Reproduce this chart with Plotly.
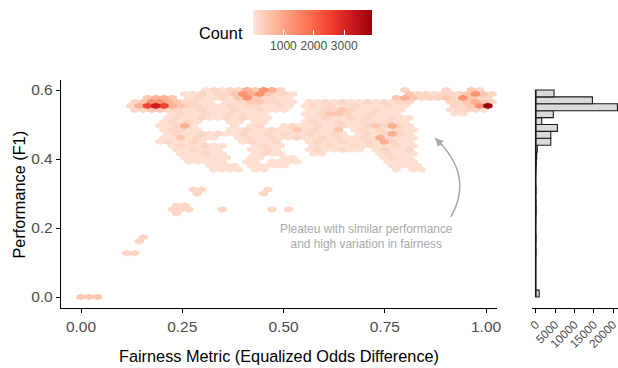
import plotly.graph_objects as go
from plotly.colors import sample_colorscale

# ---- hexbin grid (pointy-top hexagons, odd rows shifted half a column) ----
HEX_DX = 0.0205     # column spacing in fairness units
HEX_DY = 0.01154    # row spacing in F1 units

# count represented by each level character in the runs below
level_counts = {"1": 70, "2": 220, "3": 450, "4": 850, "5": 1300,
                "6": 1900, "7": 2500, "8": 3200, "9": 3900}

# (row, first column, level per consecutive cell)
hex_runs = [
    (52, 15, "1212243542"), (52, 39, "2"), (52, 44, "2"), (52, 47, "32"),
    (51, 12, "11212235453221"), (51, 39, "32212223532"),
    (50, 8, "3443"), (50, 13, "1211213532211"), (50, 38, "343222325322"),
    (49, 6, "2355432211"), (49, 17, "112332211"), (49, 27, "1121211212122"), (49, 44, "223432"),
    (48, 6, "24787432211121221121"), (48, 27, "1212112111211"), (48, 45, "22359"),
    (47, 6, "2233221121112112111"), (47, 27, "112232112111"), (47, 44, "12221"),
    (46, 11, "121121121111"), (46, 27, "112332112111"), (46, 45, "11"),
    (45, 10, "1211211212111"), (45, 27, "1121121211211"),
    (44, 10, "12121"), (44, 18, "11"), (44, 21, "11"), (44, 27, "1211211211211"),
    (43, 9, "11241"), (43, 18, "1"), (43, 20, "12"), (43, 24, "1211211211232421"),
    (42, 10, "12211"), (42, 18, "11211211312113"), (42, 33, "12121211"),
    (41, 10, "1211212112112121121121"), (41, 33, "1212421"),
    (40, 10, "1131211"), (40, 19, "1211211211212112142111"),
    (39, 9, "121121"), (39, 19, "12112"), (39, 27, "1211211214211"),
    (38, 11, "1211211"), (38, 21, "1211"), (38, 28, "1121121211211"),
    (37, 11, "112111"), (37, 20, "1121"), (37, 27, "1211211"), (37, 35, "12112"),
    (36, 12, "111211"), (36, 21, "1211"), (36, 28, "11"), (36, 36, "12111"),
    (35, 12, "111111"), (35, 20, "11"), (35, 24, "11"), (35, 36, "1211"),
    (34, 13, "11111"), (34, 20, "11"), (34, 23, "1111"), (34, 37, "1111"),
    (33, 15, "1111"), (33, 20, "11111"), (33, 37, "1111"),
    (32, 16, "1111"), (32, 21, "11"), (32, 38, "1"), (32, 40, "11"),
    (27, 13, "22"), (27, 22, "2"),
    (26, 14, "2"), (26, 22, "2"),
    (23, 11, "22"),
    (22, 11, "222"), (22, 17, "2"), (22, 23, "2"), (22, 25, "2"),
    (21, 11, "2"),
    (15, 7, "2"),
    (14, 7, "2"),
    (11, 5, "22"),
    (0, 0, "333"),
]

# ---- marginal histogram of performance (bins of 0.02 from 0 to 0.6) ----
hist_bin_width = 0.02
hist_counts = [900, 0, 0, 0, 0, 0, 60, 0, 60, 0,
               0, 20, 100, 60, 0, 60, 0, 0, 60, 150,
               250, 400, 3890, 3890, 5600, 1550, 4560, 21140, 14660, 4740]

# ---- axis ticks ----
x_ticks = [0.0, 0.25, 0.5, 0.75, 1.0]
y_ticks = [0.0, 0.2, 0.4, 0.6]
hist_ticks = [0, 5000, 10000, 15000, 20000]
count_ticks = [1000, 2000, 3000]
count_max = 3914

reds = ["#fee5d9", "#fcbba1", "#fc9272", "#fb6a4a", "#ef3b2c", "#cb181d", "#99000d"]
colorscale = [[i / (len(reds) - 1), c] for i, c in enumerate(reds)]

W, H = 618, 368
FONT = "Liberation Sans, Arial, sans-serif"
TICK_COL = "#4d4d4d"

fig = go.Figure()

# hexagon outline relative to its centre
hx = [0, HEX_DX / 2, HEX_DX / 2, 0, -HEX_DX / 2, -HEX_DX / 2, 0]
hy = [2 * HEX_DY / 3, HEX_DY / 3, -HEX_DY / 3, -2 * HEX_DY / 3, -HEX_DY / 3, HEX_DY / 3, 2 * HEX_DY / 3]

polys = {k: ([], []) for k in level_counts}
for row, start, levels in hex_runs:
    for i, ch in enumerate(levels):
        col = start + i
        cx = (col + 0.5 * (row % 2)) * HEX_DX
        cy = row * HEX_DY
        xs, ys = polys[ch]
        xs.extend([cx + v for v in hx] + [None])
        ys.extend([cy + v for v in hy] + [None])

for ch, (xs, ys) in polys.items():
    if not xs:
        continue
    color = sample_colorscale(colorscale, [level_counts[ch] / count_max])[0]
    fig.add_trace(go.Scatter(
        x=xs, y=ys, mode="lines", fill="toself", fillcolor=color,
        line=dict(width=0.9, color=color), hoverinfo="skip", showlegend=False,
        xaxis="x", yaxis="y"))

# colour bar for the counts (labels and ticks below, plus a tick-only copy above)
cbar_common = dict(orientation="h", x=312.5 / W, xanchor="center",
                   y=1 - 10 / H, yanchor="top", len=119 / W, lenmode="fraction",
                   thickness=25, thicknessmode="pixels", outlinewidth=0,
                   xpad=0, ypad=0, tickvals=count_ticks, ticks="inside", ticklen=5,
                   tickcolor="white", tickwidth=1,
                   tickfont=dict(family=FONT, size=12, color=TICK_COL))
for extra in (dict(), dict(ticklabelposition="outside top", showticklabels=False)):
    fig.add_trace(go.Scatter(
        x=[None, None], y=[None, None], mode="markers", showlegend=False, hoverinfo="skip",
        marker=dict(color=[0, count_max], colorscale=colorscale, cmin=0, cmax=count_max,
                    showscale=True, colorbar={**cbar_common, **extra}),
        xaxis="x", yaxis="y"))

# histogram bars (horizontal)
centers = [hist_bin_width * (k + 0.5) for k in range(len(hist_counts))]
fig.add_trace(go.Bar(
    x=hist_counts, y=centers, orientation="h", width=hist_bin_width,
    marker=dict(color="#dadada", line=dict(color="#1a1a1a", width=1.1)),
    hoverinfo="skip", showlegend=False, xaxis="x2", yaxis="y2"))
# outline of the empty bins along the zero baseline
fig.add_trace(go.Scatter(
    x=[0, 0], y=[0, hist_bin_width * len(hist_counts)], mode="lines",
    line=dict(color="#1a1a1a", width=1.6), hoverinfo="skip", showlegend=False,
    xaxis="x2", yaxis="y2"))

y_range = [-0.0319, 0.629]
y_dom = [60 / H, 288 / H]
axis_common = dict(showline=True, linecolor="black", linewidth=1.3, ticks="outside",
                   ticklen=4, tickcolor="black", tickwidth=1.1, showgrid=False, zeroline=False,
                   automargin=False,
                   tickfont=dict(family=FONT, size=15.5, color=TICK_COL))

fig.update_layout(
    width=W, height=H, margin=dict(l=0, r=0, t=0, b=0, autoexpand=False),
    plot_bgcolor="white", paper_bgcolor="white",
    font=dict(family=FONT, color="black"),
    xaxis=dict(domain=[61 / W, 497 / W], range=[-0.0494, 1.027],
               tickvals=x_ticks, ticktext=[f"{v:.2f}" for v in x_ticks],
               anchor="y", **axis_common),
    yaxis=dict(domain=y_dom, range=y_range,
               tickvals=y_ticks, ticktext=[f"{v:.1f}" for v in y_ticks],
               anchor="x", **axis_common),
    xaxis2=dict(domain=[532.3 / W, 1.0], range=[-880, 21280], anchor="y2",
                tickvals=hist_ticks, ticktext=[str(v) for v in hist_ticks], tickangle=-45,
                ticklabeloverflow="allow",
                **{**axis_common, "tickfont": dict(family=FONT, size=11.8, color=TICK_COL)}),
    yaxis2=dict(domain=y_dom, range=y_range, anchor="x2", visible=False),
    annotations=[
        dict(text="Fairness Metric (Equalized Odds Difference)", xref="paper", yref="paper",
             x=279 / W, y=1 - 356 / H, xanchor="center", yanchor="middle", showarrow=False,
             font=dict(family=FONT, size=16.3, color="black")),
        dict(text="Performance (F1)", xref="paper", yref="paper", textangle=-90,
             x=18 / W, y=1 - 194.5 / H, xanchor="center", yanchor="middle", showarrow=False,
             font=dict(family=FONT, size=16.3, color="black")),
        dict(text="Count", xref="paper", yref="paper", x=245 / W, y=1 - 33 / H,
             xanchor="right", yanchor="middle", showarrow=False,
             font=dict(family=FONT, size=16.3, color="black")),
        dict(text="Pleateu with similar performance<br>and high variation in fairness",
             xref="x", yref="y", x=0.7045, y=0.176, showarrow=False, align="center",
             font=dict(family=FONT, size=11.9, color="#a9a9a9")),
        dict(text="", xref="x", yref="y", x=0.874, y=0.461, ax=9, ay=9,
             showarrow=True, arrowhead=2, arrowsize=1.1, arrowwidth=1.5,
             arrowcolor="#a9a9a9", standoff=0),
    ],
    shapes=[
        dict(type="path", xref="x", yref="y",
             path="M 0.913,0.232 Q 0.972,0.354 0.874,0.461",
             line=dict(color="#a9a9a9", width=1.5)),
    ],
)

fig.write_html("out.html")
